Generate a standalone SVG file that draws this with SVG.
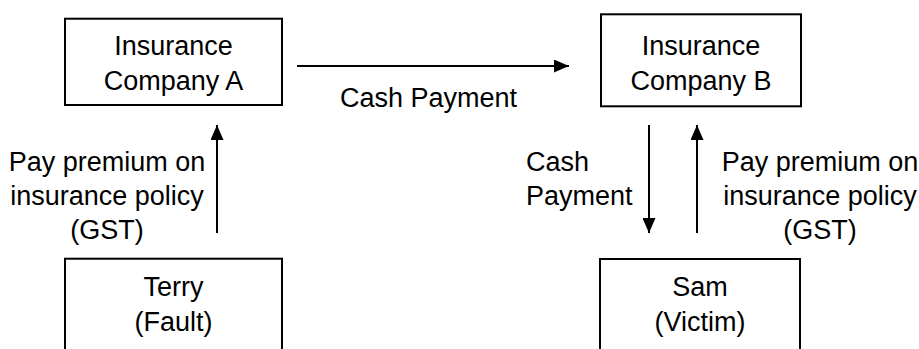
<svg xmlns="http://www.w3.org/2000/svg" width="919" height="349" viewBox="0 0 919 349">
<style>
  .box { fill: #ffffff; stroke: #000000; stroke-width: 2; }
  .t { font-family: "Liberation Sans", Arial, sans-serif; font-size: 27px; fill: #000000; }
  .c { text-anchor: middle; }
  .ln { stroke: #000000; stroke-width: 2; fill: none; }
</style>
<defs>
  <marker id="ah" viewBox="0 0 15 13" refX="15" refY="6.5" markerWidth="15" markerHeight="13" markerUnits="userSpaceOnUse" orient="auto">
    <path d="M0,0 L15,6.5 L0,13 Z" fill="#000000"/>
  </marker>
</defs>
<rect width="919" height="349" fill="#ffffff"/>
<g id="connectors">
  <line class="ln" x1="297" y1="66" x2="569" y2="66" marker-end="url(#ah)"/>
  <line class="ln" x1="217" y1="233" x2="217" y2="125" marker-end="url(#ah)"/>
  <line class="ln" x1="649" y1="125" x2="649" y2="233" marker-end="url(#ah)"/>
  <line class="ln" x1="697" y1="233" x2="697" y2="125" marker-end="url(#ah)"/>
  <text class="t" x="340" y="107">Cash Payment</text>
  <text class="t c" x="107" y="171">Pay premium on</text>
  <text class="t c" x="107" y="205">insurance policy</text>
  <text class="t c" x="107" y="239">(GST)</text>
  <text class="t" x="526" y="171">Cash</text>
  <text class="t" x="526" y="205">Payment</text>
  <text class="t c" x="820" y="171">Pay premium on</text>
  <text class="t c" x="820" y="205">insurance policy</text>
  <text class="t c" x="820" y="239">(GST)</text>
</g>
<g id="companyA">
  <rect class="box" x="65" y="18.7" width="217" height="86.3"/>
  <text class="t c" x="173.5" y="55">Insurance</text>
  <text class="t c" x="173.5" y="90">Company A</text>
</g>
<g id="companyB">
  <rect class="box" x="601" y="14.3" width="200" height="92"/>
  <text class="t c" x="701" y="55">Insurance</text>
  <text class="t c" x="701" y="90">Company B</text>
</g>
<g id="terry">
  <rect class="box" x="65" y="258.7" width="217" height="100"/>
  <text class="t c" x="173.5" y="296">Terry</text>
  <text class="t c" x="173.5" y="331">(Fault)</text>
</g>
<g id="sam">
  <rect class="box" x="600" y="259" width="200" height="100"/>
  <text class="t c" x="700" y="296">Sam</text>
  <text class="t c" x="700" y="331">(Victim)</text>
</g>
</svg>
